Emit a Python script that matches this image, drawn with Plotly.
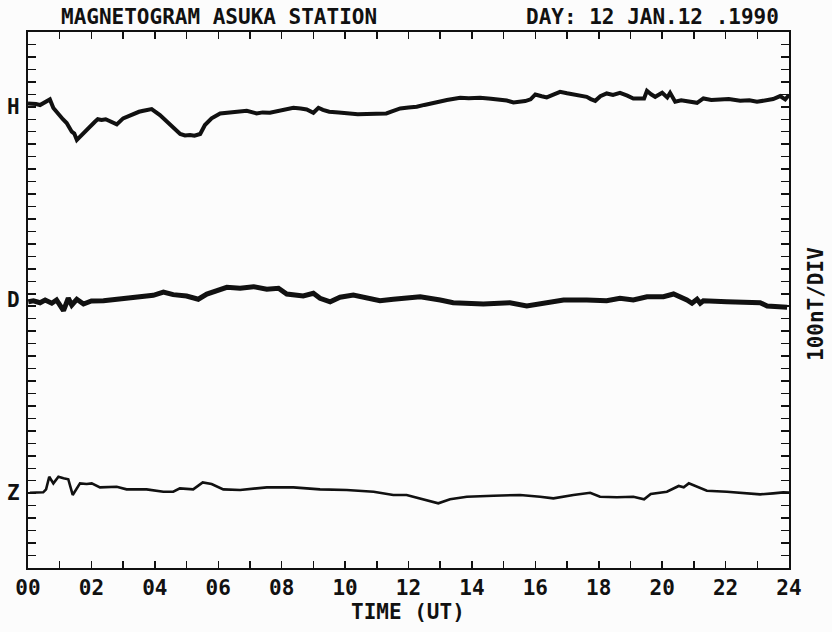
import plotly.graph_objects as go

# ---- data (deviation from each trace's baseline, nT) ----
h_time = [0.0, 0.12, 0.25, 0.38, 0.53, 0.69, 0.8, 0.9, 1.0, 1.1, 1.22, 1.3, 1.38, 1.46, 1.54, 1.62,
          1.69, 1.8, 1.9, 2.0, 2.11, 2.2, 2.32, 2.45, 2.59, 2.7, 2.8,
          3.0, 3.15, 3.32, 3.5, 3.64, 3.9, 4.16, 4.38, 4.58, 4.8, 4.95, 5.11, 5.25, 5.43, 5.58, 5.79,
          6.06, 6.2, 6.48, 6.7, 6.9, 7.21, 7.4,
          7.63, 7.85, 8.05, 8.37, 8.6, 8.79, 9.0, 9.16, 9.3, 9.5, 9.8, 10.16, 10.4, 10.68, 11.0,
          11.3, 11.5, 11.74, 12.0, 12.26, 12.5, 12.79, 13.0, 13.21,
          13.63, 13.9, 14.26, 14.6, 14.9, 15.1, 15.31, 15.68, 15.85, 16.0, 16.2, 16.36, 16.55, 16.78,
          17.0, 17.2, 17.4, 17.62, 17.75, 17.89, 18.05, 18.25, 18.45, 18.67,
          18.9, 19.09, 19.43, 19.52, 19.65, 19.78, 20.0, 20.16, 20.25, 20.41, 20.6, 20.78, 21.1,
          21.3, 21.55, 21.83, 22.1, 22.46, 22.75,
          22.99, 23.25, 23.5, 23.72, 23.88, 24.0]
h_vals = [26, 27, 22, 14, 32, 59, -10, -40, -80, -100, -130, -160, -200, -215, -266, -245,
          -226, -200, -170, -150, -120, -100, -106, -100, -114, -125, -141,
          -93, -75, -53, -40, -32, -18, -66, -120, -173, -218, -230, -226, -232, -218, -146, -93,
          -53, -50, -40, -42, -32, -53, -45,
          -48, -38, -21, -8, -14, -21, -48, -8, -25, -40, -45, -53, -60, -58, -55,
          -53, -35, -13, -5, 0, 15, 35, 42, 54,
          72, 68, 72, 65, 59, 50, 35, 46, 60, 99, 85, 75, 95, 120,
          108, 99, 90, 80, 62, 48, 85, 107, 95, 112,
          90, 67, 67, 128, 100, 80, 112, 75, 112, 40, 52, 46, 32,
          67, 55, 59, 62, 48, 52,
          40, 50, 62, 86, 59, 94]

d_time = [0.01, 0.17, 0.38, 0.54, 0.75, 0.9, 1.12, 1.27, 1.38, 1.54, 1.75, 2.0, 2.38, 2.9, 3.43,
          3.95, 4.27, 4.58, 5.0, 5.37, 5.64, 6.06, 6.27, 6.69, 7.11, 7.53, 7.9, 8.16, 8.68, 9.0,
          9.21, 9.53, 9.84, 10.26, 10.68, 11.1, 11.52, 12.15, 12.37, 13.0, 13.41, 14.36, 15.2,
          15.73, 16.25, 16.89, 17.62, 18.25, 18.67, 19.09, 19.52, 20.04, 20.36, 20.62, 20.78,
          20.94, 21.1, 21.2, 21.3, 22.04, 22.78, 23.09, 23.31, 23.62, 23.94]
d_vals = [-14, -6, -22, 0, -26, 0, -86, 14, -40, 6, -32, -8, -6, 6, 26,
          38, 64, 43, 32, 6, 48, 80, 102, 94, 107, 86, 94, 48, 32, 54,
          14, -14, 22, 40, 14, -6, 6, 26, 26, 0, -22, -32, -22,
          -48, -22, 0, 0, -6, 14, 0, 26, 26, 48, 22, 0,
          -26, 6, -26, -6, -14, -14, -22, -48, -54, -58]

z_time = [0.06, 0.48, 0.57, 0.67, 0.8, 0.96, 1.12, 1.27, 1.41, 1.51, 1.64, 1.85, 2.01, 2.27, 2.8,
          3.11, 3.74, 4.27, 4.58, 4.79, 5.21, 5.51, 5.79, 6.16, 6.69, 7.53, 8.37, 9.21, 10.05,
          10.9, 11.52, 11.94, 12.37, 12.94, 13.31, 13.84, 14.68, 15.52, 16.15, 16.57, 17.2, 17.73,
          18.04, 18.57, 19.09, 19.43, 19.64, 20.15, 20.52, 20.68, 20.84, 21.1, 21.41, 22.04,
          22.57, 23.09, 23.5, 23.82, 24.0]
z_vals = [4, 7, 31, 132, 79, 132, 120, 112, -14, 26, 79, 74, 79, 47, 52,
          31, 31, 12, 12, 39, 31, 87, 74, 31, 26, 47, 47, 31, 26,
          12, -14, -14, -41, -81, -49, -28, -20, -14, -28, -41, -14, 4,
          -28, -33, -28, -49, -6, 12, 58, 47, 79, 52, 20, 12,
          -1, -9, -1, 7, 5]

hour_ticks = list(range(0, 25))
hour_labels = ["%02d" % h if h % 2 == 0 else "" for h in hour_ticks]
component_names = ["H", "D", "Z"]

# ---- layout constants ----
BASE = {"H": 3700, "D": 2150, "Z": 600}
WIDTH = {"H": 4.0, "D": 5.0, "Z": 2.6}
FONT = "DejaVu Sans Mono"
FSIZE = 21
INK = "#111111"
FW, FH = 832, 632
ML, MR, MT, MB = 28, 43, 32, 64
PW, PH = FW - ML - MR, FH - MT - MB
TXT = dict(family=FONT, size=FSIZE, color=INK, weight="bold")


def px_x(x):
    return (x - ML) / PW


def px_y(y):
    return (FH - MB - y) / PH


series = {"H": (h_time, h_vals), "D": (d_time, d_vals), "Z": (z_time, z_vals)}

fig = go.Figure()
for name in component_names:
    t, v = series[name]
    fig.add_trace(go.Scatter(
        x=t, y=[BASE[name] + val for val in v], mode="lines",
        line=dict(color=INK, width=WIDTH[name]), showlegend=False, name=name,
    ))

fig.update_layout(
    width=FW, height=FH,
    margin=dict(l=ML, r=MR, t=MT, b=MB),
    paper_bgcolor="#fcfcfc", plot_bgcolor="#fcfcfc",
    font=dict(family=FONT, size=FSIZE, color=INK),
    xaxis=dict(
        range=[0, 24], tickvals=hour_ticks, ticktext=hour_labels,
        ticks="inside", ticklen=7, tickwidth=1.5, tickcolor=INK,
        showline=True, linewidth=2, linecolor=INK, mirror="ticks",
        showgrid=False, zeroline=False,
        tickfont=TXT,
    ),
    yaxis=dict(
        range=[0, 4300], tickvals=list(range(100, 4300, 100)), showticklabels=False,
        ticks="inside", ticklen=8, tickwidth=1.5, tickcolor=INK,
        showline=True, linewidth=2, linecolor=INK, mirror="ticks",
        showgrid=False, zeroline=False,
    ),
)

annotations = [
    dict(text="MAGNETOGRAM ASUKA STATION", x=219, y=17),
    dict(text="DAY: 12 JAN.12 .1990", x=652, y=17),
    dict(text="TIME (UT)", x=408, y=612),
]
for a in annotations:
    fig.add_annotation(
        text=a["text"], xref="paper", yref="paper",
        x=px_x(a["x"]), y=px_y(a["y"]),
        showarrow=False, xanchor="center", yanchor="middle", borderpad=0,
        font=TXT,
    )

fig.add_annotation(
    text="100nT/DIV", textangle=-90, xref="paper", yref="paper",
    x=px_x(816), y=px_y(304),
    showarrow=False, xanchor="center", yanchor="middle", borderpad=0,
    font=TXT,
)

for name in component_names:
    fig.add_annotation(
        text=name, xref="paper", yref="y", x=px_x(13), y=BASE[name],
        showarrow=False, xanchor="center", yanchor="middle", borderpad=0,
        font=TXT,
    )

fig.write_html("out.html", config={"displayModeBar": False, "staticPlot": True},
               post_script="document.body.style.margin='0';")
